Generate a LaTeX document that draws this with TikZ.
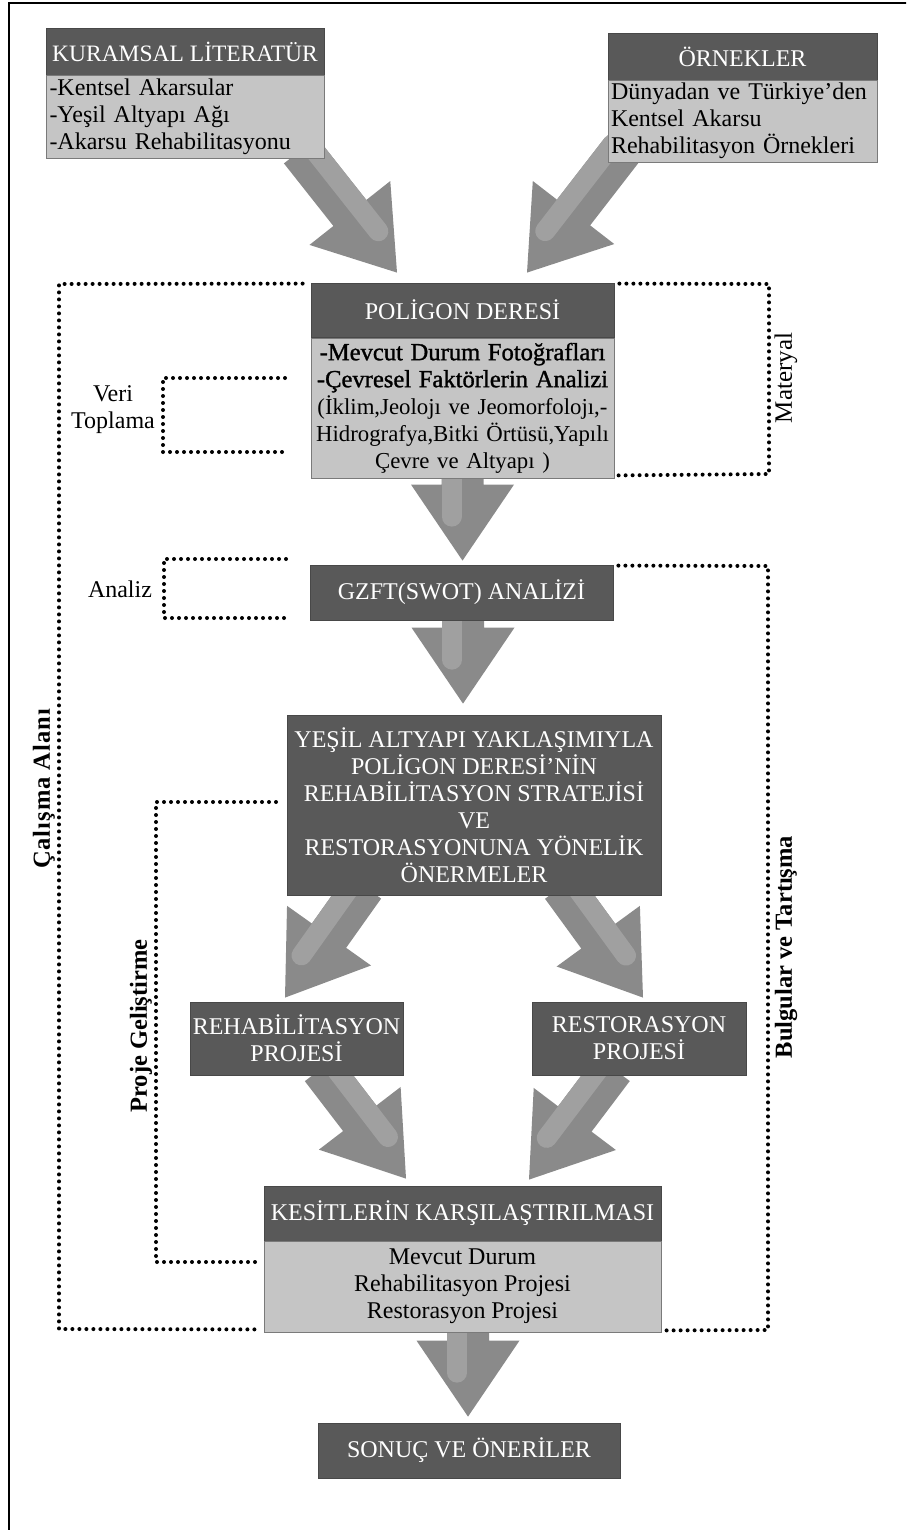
\documentclass[tikz,border=0pt]{standalone}
\usepackage{fontspec}
\setmainfont{Liberation Serif}
\usetikzlibrary{calc}
\definecolor{hdrgray}{HTML}{595959}
\definecolor{hdredge}{HTML}{484848}
\definecolor{bodygray}{HTML}{C5C5C5}
\definecolor{edgegray}{HTML}{7A7A7A}
\definecolor{arrgray}{HTML}{8A8A8A}
\definecolor{arrlight}{HTML}{A0A0A0}
\pgfdeclarelayer{bg}
\pgfsetlayers{bg,main}
\newcommand{\blockarr}[3]{%
  \coordinate (ba) at ($(#2)!76pt!(#1)$);
  \coordinate (bs) at ($(#2)!44pt!(#1)$);
  \fill[arrgray] ($(#1)!21pt!90:(#2)$) -- ($(ba)!21pt!90:(#2)$) -- ($(ba)!51.5pt!90:(#2)$) -- (#2)
    -- ($(ba)!51.5pt!-90:(#2)$) -- ($(ba)!21pt!-90:(#2)$) -- ($(#1)!21pt!-90:(#2)$) -- cycle;
  \draw[bstripe] ($(#1)!11pt!#3:(#2)$) -- ($(bs)!11pt!#3:(#2)$);
}
\begin{document}
\begin{tikzpicture}[x=1pt,y=-1pt,
  every node/.style={font=\fontsize{24}{27}\selectfont, inner sep=0pt},
  hdr/.style={draw=hdredge, fill=hdrgray, text=white, line width=0.8pt, align=center},
  bodybox/.style={draw=edgegray, fill=bodygray, text=black, line width=0.8pt},
  bstripe/.style={draw=arrlight, line width=20pt, line cap=round},
  dotline/.style={line width=4pt, dash pattern=on 0pt off 7pt, line cap=round},
  sidelabel/.style={font=\fontsize{24.5}{27}\selectfont\bfseries, rotate=90},
  sideplain/.style={font=\fontsize{25}{27}\selectfont, rotate=90}
]
\useasboundingbox (0,0) rectangle (906,1530);
\clip (0,0) rectangle (906,1530);
\draw[line width=2pt] (9,3) rectangle (940,1560);

% boxes
\node[hdr, minimum width=278pt, minimum height=47pt, font=\fontsize{23.5}{27}\selectfont] (kurh) at (185,51.5) {KURAMSAL LİTERATÜR};
\node[bodybox, minimum width=278pt, minimum height=83pt, text width=271pt, align=left] (kurb) at (185,116.5)
  {-Kentsel Akarsular\\-Yeşil Altyapı Ağı\\-Akarsu Rehabilitasyonu};
\node[hdr, minimum width=269pt, minimum height=47pt] (orh) at (742.5,56.5) {ÖRNEKLER};
\node[bodybox, minimum width=269pt, minimum height=82pt, text width=263pt, align=left] (orb) at (742.5,121)
  {Dünyadan ve Türkiye’den\\Kentsel Akarsu\\Rehabilitasyon Örnekleri};
\node[hdr, minimum width=303pt, minimum height=54pt] (polh) at (462.5,310) {POLİGON DERESİ};
\node[bodybox, minimum width=303pt, minimum height=140pt, text width=299pt, align=center,
      font=\fontsize{22.8}{27}\selectfont] (polb) at (462.5,408)
  {{\fontsize{24.6}{27}\selectfont\addfontfeature{FakeBold=1.2}-Mevcut Durum Fotoğrafları\\-Çevresel Faktörlerin Analizi}\\(İklim,Jeolojı ve Jeomorfolojı,-\\Hidrografya,Bitki Örtüsü,Yapılı\\Çevre ve Altyapı )};
\node[hdr, minimum width=303pt, minimum height=55pt] (gzft) at (461.5,592.5) {GZFT(SWOT) ANALİZİ};
\node[hdr, minimum width=374pt, minimum height=180pt] (yes) at (474,805)
  {YEŞİL ALTYAPI YAKLAŞIMIYLA\\POLİGON DERESİ’NİN\\REHABİLİTASYON STRATEJİSİ\\VE\\RESTORASYONUNA YÖNELİK\\ÖNERMELER};
\node[hdr, minimum width=213pt, minimum height=73pt] (reh) at (296.5,1038.5) {REHABİLİTASYON\\PROJESİ};
\node[hdr, minimum width=214pt, minimum height=73pt] (res) at (639,1038.5) {RESTORASYON\\PROJESİ};
\node[hdr, minimum width=397pt, minimum height=55pt] (kesh) at (462.5,1213.5) {KESİTLERİN KARŞILAŞTIRILMASI};
\node[bodybox, minimum width=397pt, minimum height=91pt, align=center] (kesb) at (462.5,1286.5)
  {Mevcut Durum\\Rehabilitasyon Projesi\\Restorasyon Projesi};
\node[hdr, minimum width=302pt, minimum height=55pt] (son) at (469,1450.5) {SONUÇ VE ÖNERİLER};

% side labels
\node[sidelabel] (calis) at (44,789) {\addfontfeature{LetterSpace=4}Çalışma Alanı};
\node[sideplain] (mat) at (786,378) {Materyal};
\node[sidelabel] (bulg) at (786,947) {Bulgular ve Tartışma};
\node[sidelabel] (proj) at (141,1026) {Proje Geliştirme};
\node[align=center] (veri) at (113,410) {Veri\\Toplama};
\node (anl) at (120,589) {Analiz};

% arrows (behind boxes)
\begin{pgfonlayer}{bg}
\coordinate (s1) at ($(kurb.south east)+(-24,-8)$);
\coordinate (t1) at ($(polh.north)+(-65.5,-10)$);
\blockarr{s1}{t1}{90}
\coordinate (s2) at ($(orb.south west)+(14,-12)$);
\coordinate (t2) at ($(polh.north)+(64.5,-10)$);
\blockarr{s2}{t2}{-90}
\coordinate (s3) at ($(polb.south)+(0,-7)$);
\coordinate (t3) at ($(gzft.north)+(1,-4)$);
\blockarr{s3}{t3}{-90}
\coordinate (s4) at ($(gzft.south)+(1.5,-5)$);
\coordinate (t4) at ($(yes.north)+(-11,-11)$);
\blockarr{s4}{t4}{-90}
\coordinate (s5) at ($(yes.south)+(-110,-9)$);
\coordinate (t5) at ($(reh.north)+(-11.5,-4)$);
\blockarr{s5}{t5}{-90}
\coordinate (s6) at ($(yes.south)+(88,-9)$);
\coordinate (t6) at ($(res.north)+(4,-4)$);
\blockarr{s6}{t6}{90}
\coordinate (s7) at ($(reh.south)+(25,-7)$);
\coordinate (t7) at ($(kesh.north)+(-56.5,-7)$);
\blockarr{s7}{t7}{90}
\coordinate (s8) at ($(res.south)+(-26,-7)$);
\coordinate (t8) at ($(kesh.north)+(66.5,-6)$);
\blockarr{s8}{t8}{-90}
\coordinate (s9) at ($(kesb.south)+(5.5,-7)$);
\coordinate (t9) at ($(son.north)+(-1,-6)$);
\blockarr{s9}{t9}{-90}
\end{pgfonlayer}

% dotted brackets
\coordinate (ca1) at (59,284);
\coordinate (ca2) at (59,1329);
\draw[dotline] ($(polh.north west)+(-8,1)$) -- (ca1) -- (ca2) -- ($(kesb.south west)+(-3,-3)$);
\coordinate (ma1) at (769,284);
\coordinate (ma2) at (769,474);
\draw[dotline] ($(polh.north east)+(5,1)$) -- (ma1) -- (ma2) -- ($(polb.south east)+(4,-3)$);
\coordinate (vt0) at (285,378);
\coordinate (vt1) at (163,378);
\coordinate (vt2) at (163,452);
\coordinate (vt3) at (285,452);
\draw[dotline] (vt0) -- (vt1) -- (vt2) -- (vt3);
\coordinate (an0) at (286,559);
\coordinate (an1) at (164,559);
\coordinate (an2) at (164,618);
\coordinate (an3) at (286,618);
\draw[dotline] (an0) -- (an1) -- (an2) -- (an3);
\coordinate (bu1) at (768,566);
\coordinate (bu2) at (768,1330);
\draw[dotline] ($(gzft.north east)+(5,1)$) -- (bu1) -- (bu2) -- ($(kesb.south east)+(5,-2)$);
\coordinate (pg0) at (276,802);
\coordinate (pg1) at (156,802);
\coordinate (pg2) at (156,1262);
\draw[dotline] (pg0) -- (pg1) -- (pg2) -- ($(kesb.west)+(-3,-24.5)$);
\end{tikzpicture}
\end{document}
